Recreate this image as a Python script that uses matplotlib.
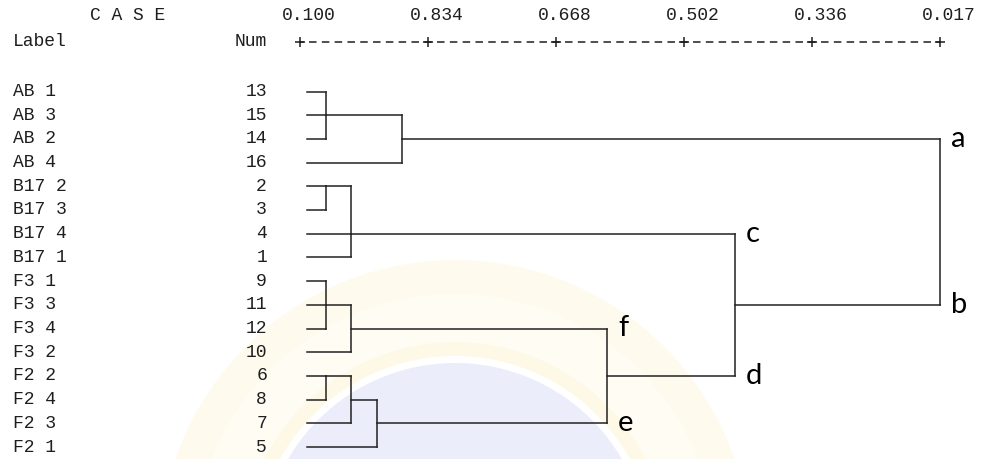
import matplotlib

matplotlib.use("Agg")

import matplotlib.pyplot as plt
from matplotlib.patches import Circle

# case labels and case numbers, top to bottom as listed in the output
labels = ["AB 1", "AB 3", "AB 2", "AB 4", "B17 2", "B17 3", "B17 4", "B17 1",
          "F3 1", "F3 3", "F3 4", "F3 2", "F2 2", "F2 4", "F2 3", "F2 1"]
case_nums = [13, 15, 14, 16, 2, 3, 4, 1, 9, 11, 12, 10, 6, 8, 7, 5]

# rescaled distance ruler
tick_pos = [0, 5, 10, 15, 20, 25]
tick_labels = ["0.100", "0.834", "0.668", "0.502", "0.336", "0.017"]

# agglomeration steps: node ids continue after the 16 leaves (16, 17, ...)
merge_children = [[0, 1, 2], [16, 3], [4, 5], [18, 6, 7], [8, 9, 10], [20, 11],
                  [12, 13], [22, 14], [23, 15], [21, 24], [19, 25], [17, 26]]
merge_dist = [1, 4, 1, 2, 1, 2, 1, 2, 3, 12, 17, 25]
merge_row = [1, 2, 4, 6, 9, 10, 12, 13, 14, 12, 9, None]
leaf_start = 0.27

# cluster letters written at the end of a branch
branch_letters = {17: "a", 26: "b", 19: "c", 25: "d", 21: "f", 24: "e"}

# page geometry (pixels)
W, H = 985, 459
X0_PX, PX_UNIT = 300, 25.6
ROW0_PX, ROW_PX = 91.5, 23.7

plt.rcParams["lines.scale_dashes"] = False
MONO = "Liberation Mono"
MONO_SIZE = 13
INK = "#1e1e1e"

fig = plt.figure(figsize=(W / 100, H / 100), dpi=100)

# faint watermark behind the output
bg = fig.add_axes([0, 0, 1, 1])
bg.set_xlim(0, W)
bg.set_ylim(H, 0)
bg.axis("off")
cx, cy = 455, 556
bg.add_patch(Circle((cx, cy), 296, color="#fefbee", lw=0))
bg.add_patch(Circle((cx, cy), 262, color="#fffcf3", lw=0))
bg.add_patch(Circle((cx, cy), 214, color="#fef9e6", lw=0))
bg.add_patch(Circle((cx, cy), 200, color="#ffffff", lw=0))
bg.add_patch(Circle((cx, cy), 193, color="#ecedfb", lw=0))

ax = fig.add_axes([0, 0, 1, 1])
ax.patch.set_alpha(0)
ax.set_xlim(-X0_PX / PX_UNIT, (W - X0_PX) / PX_UNIT)
ax.set_ylim((H - ROW0_PX) / ROW_PX, -ROW0_PX / ROW_PX)
ax.axis("off")

def px_x(p):
    return (p - X0_PX) / PX_UNIT

def px_y(p):
    return (p - ROW0_PX) / ROW_PX

# header
ax.text(px_x(90), px_y(15), "C A S E", family=MONO, fontsize=MONO_SIZE, color=INK,
        ha="left", va="center")
ax.text(px_x(13), px_y(41), "Label", family=MONO, fontsize=MONO_SIZE, color=INK,
        ha="left", va="center")
ax.text(px_x(267), px_y(41), "Num", family=MONO, fontsize=MONO_SIZE, color=INK,
        ha="right", va="center")
for t, lab in zip(tick_pos, tick_labels):
    ax.text(t - 0.72, px_y(15), lab, family=MONO, fontsize=MONO_SIZE, color=INK,
            ha="left", va="center")

ruler_y = px_y(42)
on_pt, off_pt = 5.4, 9.216 - 5.4
ax.plot([tick_pos[0], tick_pos[-1]], [ruler_y, ruler_y], color=INK, lw=1.1,
        linestyle=(on_pt / 2, (on_pt, off_pt)))
ax.plot(tick_pos, [ruler_y] * len(tick_pos), ls="none", marker="+",
        ms=7, mew=1.1, color=INK)

# case rows
for i, (lab, num) in enumerate(zip(labels, case_nums)):
    ax.text(px_x(13), i, lab, family=MONO, fontsize=MONO_SIZE, color=INK,
            ha="left", va="center")
    ax.text(px_x(267), i, str(num), family=MONO, fontsize=MONO_SIZE, color=INK,
            ha="right", va="center")

# dendrogram
n = len(labels)
node_x = {i: leaf_start for i in range(n)}
node_row = {i: i for i in range(n)}
line_kw = dict(color="#222222", lw=1.1, solid_capstyle="projecting")
for k, (kids, dist, row) in enumerate(zip(merge_children, merge_dist, merge_row)):
    rows = [node_row[c] for c in kids]
    for c in kids:
        ax.plot([node_x[c], dist], [node_row[c], node_row[c]], **line_kw)
    ax.plot([dist, dist], [min(rows), max(rows)], **line_kw)
    node_id = n + k
    node_x[node_id] = dist
    node_row[node_id] = row
    for c in kids:
        if c in branch_letters:
            ax.text(dist + 0.42, node_row[c], branch_letters[c], family="Lato",
                    fontsize=21, color="black", ha="left", va="center")

fig.savefig("out.png", dpi=100)
